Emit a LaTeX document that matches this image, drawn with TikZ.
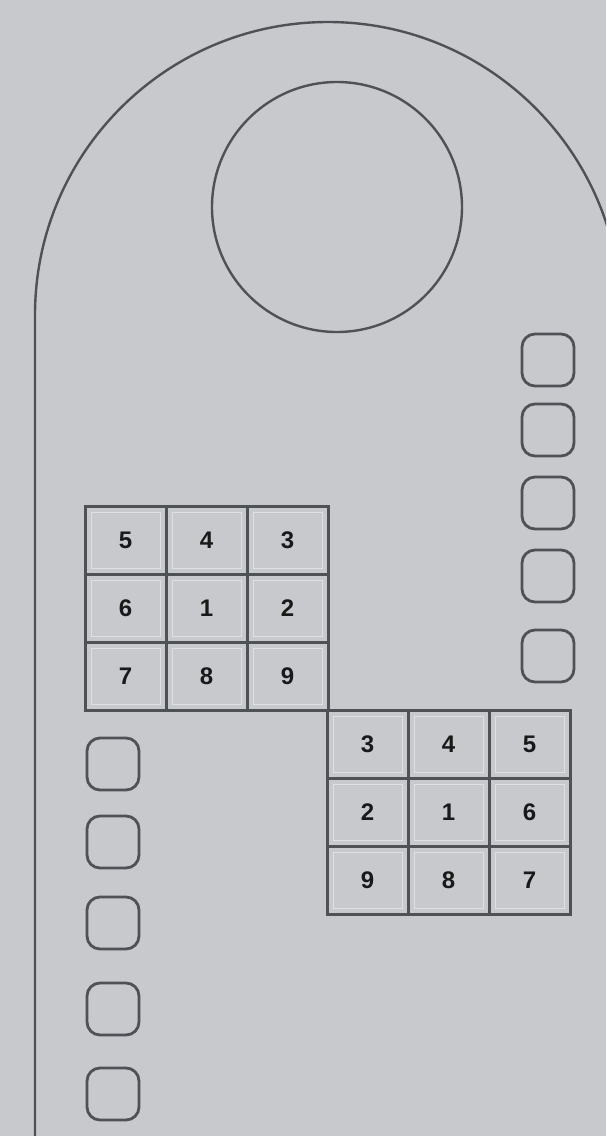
\documentclass[tikz,border=0pt]{standalone}
\usepackage{fontspec}
\setsansfont{Liberation Sans}
\usetikzlibrary{positioning}
\definecolor{card}{RGB}{199,201,205}
\definecolor{ink}{RGB}{78,81,86}
\definecolor{rim}{RGB}{222,224,228}

\tikzset{
  cell/.style={draw=ink, line width=3pt, outer sep=0pt, inner sep=0pt,
    minimum width=81pt, minimum height=68pt, text=black!90,
    font=\sffamily\bfseries\fontsize{24}{24}\selectfont,
    path picture={\draw[rim, line width=1pt]
      ([shift={(6pt,6pt)}]path picture bounding box.south west) rectangle
      ([shift={(-6pt,-6pt)}]path picture bounding box.north east);}},
  slot/.style={draw=ink, line width=2.8pt, rounded corners=13pt,
    minimum size=52pt, inner sep=0pt}
}

\begin{document}
\begin{tikzpicture}[x=1pt,y=1pt]
  \fill[card] (0,0) rectangle (606,-1136);
  \useasboundingbox (0,0) rectangle (606,-1136);
  \clip (0,0) rectangle (606,-1136);

  % hanger outline and hole
  \draw[ink, line width=2.4pt] (35,-1140) -- (35,-315)
    arc[start angle=180, end angle=0, radius=293] -- (621,-1140);
  \node[draw=ink, line width=2.4pt, circle, minimum size=250pt] (ring) at (337,-207) {};

  % first grid
  \node[cell] (a1) at (206.5,-608) {1};
  \node[cell, right=0pt of a1] (a2) {2};
  \node[cell, above right=0pt of a1] (a3) {3};
  \node[cell, above=0pt of a1] (a4) {4};
  \node[cell, above left=0pt of a1] (a5) {5};
  \node[cell, left=0pt of a1] (a6) {6};
  \node[cell, below left=0pt of a1] (a7) {7};
  \node[cell, below=0pt of a1] (a8) {8};
  \node[cell, below right=0pt of a1] (a9) {9};

  % second grid
  \node[cell] (b1) at (448.5,-812) {1};
  \node[cell, left=0pt of b1] (b2) {2};
  \node[cell, above left=0pt of b1] (b3) {3};
  \node[cell, above=0pt of b1] (b4) {4};
  \node[cell, above right=0pt of b1] (b5) {5};
  \node[cell, right=0pt of b1] (b6) {6};
  \node[cell, below right=0pt of b1] (b7) {7};
  \node[cell, below=0pt of b1] (b8) {8};
  \node[cell, below left=0pt of b1] (b9) {9};

  % slots
  \foreach \y [count=\i] in {360,430,503,576,656}
    \node[slot] (r\i) at (548,-\y) {};
  \foreach \y [count=\i] in {764,842,923,1009,1094}
    \node[slot] (l\i) at (113,-\y) {};
\end{tikzpicture}
\end{document}
